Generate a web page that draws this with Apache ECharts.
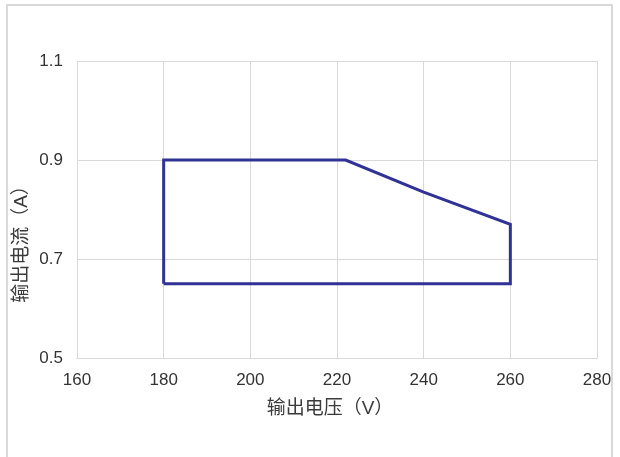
<!DOCTYPE html>
<html><head><meta charset="utf-8">
<script src="https://cdn.jsdelivr.net/npm/echarts@6/dist/echarts.min.js"></script>
<style>html,body{margin:0;padding:0;background:#fff}#c{width:620px;height:457px}</style>
</head><body><div id="c"></div>
<script>
const voltage = [180, 180, 222, 240, 260, 260, 180];
const current = [0.65, 0.90, 0.90, 0.835, 0.77, 0.65, 0.65];
const xTicks = {min: 160, max: 280, interval: 20};
const yTicks = {min: 0.5, max: 1.1, interval: 0.2};
const xName = '输出电压（V）';
const yName = '输出电流（A）';

const pts = voltage.map((v, i) => [v, current[i]]);
const chart = echarts.init(document.getElementById('c'), null, {renderer: 'canvas'});
const font = '"Liberation Sans", Arial, "Noto Sans CJK SC", sans-serif';
chart.setOption({
  animation: false,
  backgroundColor: '#fff',
  graphic: [{type: 'rect', shape: {x: 7, y: 5, width: 605, height: 470}, style: {fill: 'none', stroke: '#d9d9d9', lineWidth: 2}, silent: true}],
  grid: {left: 77, right: 23, top: 61, bottom: 99},
  xAxis: {
    type: 'value', min: xTicks.min, max: xTicks.max, interval: xTicks.interval,
    name: xName, nameLocation: 'middle', nameGap: 41,
    nameTextStyle: {fontSize: 19, color: '#3a3a3a', fontFamily: font, padding: [0, 14, 0, 0]},
    axisLine: {show: true, lineStyle: {color: '#d9d9d9', width: 1}},
    axisTick: {show: false},
    axisLabel: {fontSize: 17, color: '#333333', fontFamily: font, margin: 14},
    splitLine: {show: true, lineStyle: {color: '#d9d9d9', width: 1}}
  },
  yAxis: {
    type: 'value', min: yTicks.min, max: yTicks.max, interval: yTicks.interval,
    name: yName, nameLocation: 'middle', nameGap: 46, nameMoveOverlap: false,
    nameTextStyle: {fontSize: 19, color: '#3a3a3a', fontFamily: font, padding: [0, 60, 0, 0]},
    axisLine: {show: false},
    axisTick: {show: false},
    axisLabel: {fontSize: 17, color: '#333333', fontFamily: font, margin: 14, formatter: v => v.toFixed(1)},
    splitLine: {show: true, lineStyle: {color: '#d9d9d9', width: 1}}
  },
  series: [{
    type: 'line', data: pts, showSymbol: false, symbol: 'none',
    lineStyle: {color: '#303295', width: 3, join: 'miter'}
  }]
});
</script></body></html>
